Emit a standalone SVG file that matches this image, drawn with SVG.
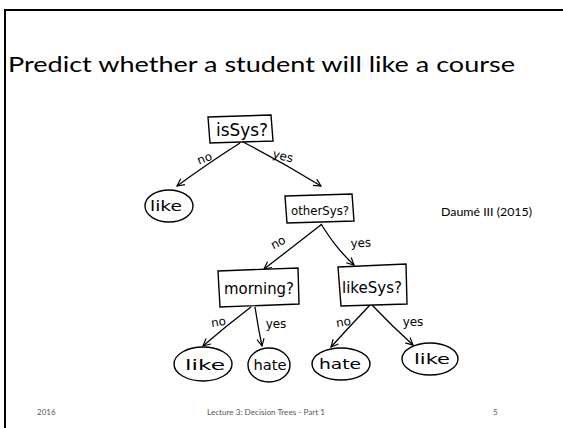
<svg xmlns="http://www.w3.org/2000/svg" width="563" height="428" viewBox="0 0 563 428">
<defs>
<style>
.frame{fill:none;stroke:#000;stroke-width:2}
.title{font-family:Lato,"Liberation Sans",Arial,sans-serif;font-size:22px;fill:#000}
.cite{font-family:Lato,"Liberation Sans",Arial,sans-serif;font-size:11px;fill:#000}
.foot{font-family:Lato,"Liberation Sans",Arial,sans-serif;font-size:8px;fill:#595959}
.box{fill:#fff;stroke:#000;stroke-width:1.4}
.leaf{fill:#fff;stroke:#000;stroke-width:1.4}
.hand{font-family:"DejaVu Sans","Liberation Sans",sans-serif;fill:#000;text-anchor:middle}
.edge{fill:none;stroke:#000;stroke-width:1.3}
.lbl{font-family:"DejaVu Sans","Liberation Sans",sans-serif;font-size:12px;fill:#000;text-anchor:middle}
</style>
<marker id="arr" viewBox="0 0 10 10" refX="9" refY="5" markerWidth="9" markerHeight="9" markerUnits="userSpaceOnUse" orient="auto">
<path d="M1,1 L9,5 L1,9" fill="none" stroke="#000" stroke-width="1.3"/>
</marker>
</defs>
<rect width="563" height="428" fill="#fff"/>
<path class="frame" d="M5,429 L5,10 L564,10"/>
<text class="title" x="8" y="72" textLength="507" lengthAdjust="spacingAndGlyphs">Predict whether a student will like a course</text>
<text class="cite" x="441" y="216" textLength="91" lengthAdjust="spacingAndGlyphs">Daumé III (2015)</text>
<text class="foot" x="37" y="415">2016</text>
<text class="foot" x="207" y="415" textLength="118" lengthAdjust="spacingAndGlyphs">Lecture 3: Decision Trees - Part 1</text>
<text class="foot" x="493" y="415">5</text>

<g id="connectors">
<path class="edge" d="M240,143 Q210,162 177,186" marker-end="url(#arr)"/>
<path class="edge" d="M243,142 Q282,162 321,186" marker-end="url(#arr)"/>
<path class="edge" d="M322,224 Q294,246 264,269" marker-end="url(#arr)"/>
<path class="edge" d="M321,224 C330,238 338,250 354,265" marker-end="url(#arr)"/>
<path class="edge" d="M251,307 Q226,326 203,346" marker-end="url(#arr)"/>
<path class="edge" d="M255,307 Q258,327 262,346" marker-end="url(#arr)"/>
<path class="edge" d="M370,305 Q350,326 331,347" marker-end="url(#arr)"/>
<path class="edge" d="M372,305 Q392,326 413,345" marker-end="url(#arr)"/>
<text class="lbl" transform="translate(206,162) rotate(-22)">no</text>
<text class="lbl" transform="translate(282,160) rotate(14)">yes</text>
<text class="lbl" transform="translate(280,246) rotate(-28)">no</text>
<text class="lbl" transform="translate(361,247) rotate(-3)">yes</text>
<text class="lbl" transform="translate(219,326) rotate(-10)">no</text>
<text class="lbl" transform="translate(276,328)">yes</text>
<text class="lbl" transform="translate(344,326) rotate(-10)">no</text>
<text class="lbl" transform="translate(413,326)">yes</text>
</g>

<g id="isSys">
<polygon class="box" points="208,117 271,115 273,141 210,143"/>
<text class="hand" x="242" y="136" font-size="17" textLength="52" lengthAdjust="spacingAndGlyphs">isSys?</text>
</g>
<g id="like1">
<ellipse class="leaf" cx="169" cy="206" rx="24" ry="16"/>
<text class="hand" x="166" y="211" font-size="14" textLength="32" lengthAdjust="spacingAndGlyphs">like</text>
</g>
<g id="otherSys">
<polygon class="box" points="285,196 352,194 354,221 287,223"/>
<text class="hand" x="320" y="215" font-size="13" textLength="58" lengthAdjust="spacingAndGlyphs">otherSys?</text>
</g>
<g id="morning">
<polygon class="box" points="218,271 298,268 299,304 220,307"/>
<text class="hand" x="259" y="294" font-size="15" textLength="70" lengthAdjust="spacingAndGlyphs">morning?</text>
</g>
<g id="likeSys">
<polygon class="box" points="338,267 406,264 407,304 341,306"/>
<text class="hand" x="372" y="293" font-size="15" textLength="60" lengthAdjust="spacingAndGlyphs">likeSys?</text>
</g>
<g id="like2">
<ellipse class="leaf" cx="203" cy="364" rx="29" ry="17"/>
<text class="hand" x="205" y="370" font-size="14" textLength="40" lengthAdjust="spacingAndGlyphs">like</text>
</g>
<g id="hate1">
<ellipse class="leaf" cx="269" cy="365" rx="21" ry="17"/>
<text class="hand" x="270" y="370" font-size="14" textLength="33" lengthAdjust="spacingAndGlyphs">hate</text>
</g>
<g id="hate2">
<ellipse class="leaf" cx="341" cy="364" rx="29" ry="16"/>
<text class="hand" x="340" y="369" font-size="14" textLength="42" lengthAdjust="spacingAndGlyphs">hate</text>
</g>
<g id="like3">
<ellipse class="leaf" cx="430" cy="359" rx="28" ry="16"/>
<text class="hand" x="432" y="364" font-size="14" textLength="36" lengthAdjust="spacingAndGlyphs">like</text>
</g>
</svg>
